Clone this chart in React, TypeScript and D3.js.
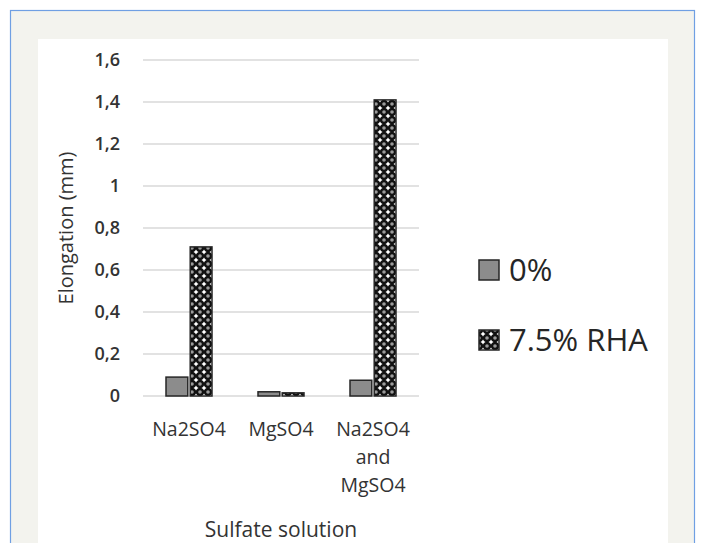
import React from "react";
import * as d3 from "d3";

const categories = ["Na2SO4", "MgSO4", "Na2SO4 and MgSO4"];
const categoryLines = [["Na2SO4"], ["MgSO4"], ["Na2SO4", "and", "MgSO4"]];
const seriesNames = ["0%", "7.5% RHA"];
const series0 = [0.09, 0.02, 0.075];
const series1 = [0.71, 0.015, 1.41];
const yTicks = [0, 0.2, 0.4, 0.6, 0.8, 1, 1.2, 1.4, 1.6];
const yTickLabels = ["0", "0,2", "0,4", "0,6", "0,8", "1", "1,2", "1,4", "1,6"];

const W = 701;
const H = 543;
const font = "'Open Sans', 'Liberation Sans', sans-serif";

export default function App() {
  const plotL = 143, plotR = 419, plotT = 60, plotB = 396;
  const x = d3.scaleBand<string>().domain(categories).range([plotL, plotR]).paddingInner(0.5).paddingOuter(0.25);
  const xs = d3.scaleBand<string>().domain(seriesNames).range([0, x.bandwidth()]).paddingInner(0.1);
  const y = d3.scaleLinear().domain([0, 1.6]).range([plotB, plotT]);
  const data = [series0, series1];

  return (
    <svg width={W} height={H} style={{ position: "absolute", left: 0, top: 0 }} fontFamily={font}>
      <defs>
        <pattern id="conf" width={8} height={8} patternUnits="userSpaceOnUse" x={0} y={0}>
          <rect width={8} height={8} fill="#111" />
          <path d="M4 1.5 L5 3 L6.5 4 L5 5 L4 6.5 L3 5 L1.5 4 L3 3 Z" fill="#fff" />
          <circle cx={0} cy={0} r={1.8} fill="#9a9a9a" />
          <circle cx={8} cy={0} r={1.8} fill="#9a9a9a" />
          <circle cx={0} cy={8} r={1.8} fill="#9a9a9a" />
          <circle cx={8} cy={8} r={1.8} fill="#9a9a9a" />
        </pattern>
      </defs>
      <rect x={0} y={0} width={W} height={H} fill="#fff" />
      <rect x={10.5} y={10.5} width={684} height={H} fill="#f3f3ee" stroke="#6f9fe3" strokeWidth={1.2} />
      <rect x={38} y={39} width={630} height={H} fill="#fff" />

      {yTicks.map((t, i) => (
        <g key={i}>
          <line x1={plotL} x2={plotR} y1={y(t)} y2={y(t)} stroke="#d9d9d9" strokeWidth={1.5} />
          <text x={120} y={y(t)} dy="0.36em" textAnchor="end" fontSize={18} fontWeight={600} fill="#333">
            {yTickLabels[i]}
          </text>
        </g>
      ))}

      {categories.map((c, ci) =>
        seriesNames.map((s, si) => {
          const v = data[si][ci];
          const bx = (x(c) ?? 0) + (xs(s) ?? 0);
          return (
            <rect
              key={c + s}
              x={bx}
              y={y(v)}
              width={xs.bandwidth()}
              height={plotB - y(v)}
              fill={si === 0 ? "#8c8c8c" : "url(#conf)"}
              stroke="#262626"
              strokeWidth={1.5}
            />
          );
        })
      )}

      {categories.map((c, ci) => (
        <text key={c} textAnchor="middle" fontSize={19.5} fill="#333">
          {categoryLines[ci].map((ln, li) => (
            <tspan key={li} x={(x(c) ?? 0) + x.bandwidth() / 2} y={436 + li * 28}>
              {ln}
            </tspan>
          ))}
        </text>
      ))}

      <text x={(plotL + plotR) / 2} y={537} textAnchor="middle" fontSize={21} fill="#333">
        Sulfate solution
      </text>
      <text
        transform={`translate(73, ${(plotT + plotB) / 2}) rotate(-90)`}
        textAnchor="middle"
        fontSize={20}
        fill="#333"
      >
        Elongation (mm)
      </text>

      {seriesNames.map((s, i) => (
        <g key={s} transform={`translate(479, ${260 + i * 70})`}>
          <rect x={0} y={0} width={20} height={20} fill={i === 0 ? "#8c8c8c" : "url(#conf)"} stroke="#262626" strokeWidth={1.5} />
          <text x={30} y={21} fontSize={31} fill="#262626">
            {s}
          </text>
        </g>
      ))}
    </svg>
  );
}
